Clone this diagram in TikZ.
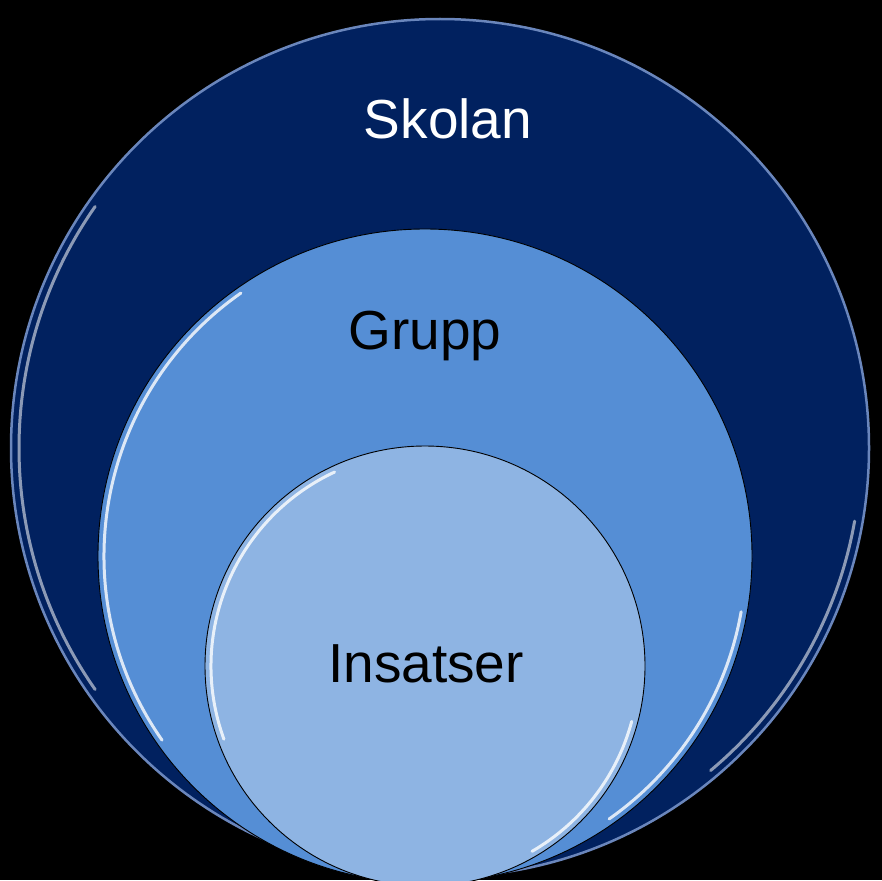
\documentclass[tikz,border=0pt]{standalone}
\usepackage{fontspec}
\setmainfont{Liberation Sans}
\definecolor{skolanblue}{HTML}{01215F}
\definecolor{skolanrim}{HTML}{6A86BC}
\definecolor{gruppblue}{HTML}{558ED5}
\definecolor{insatsblue}{HTML}{8EB4E3}
\tikzset{
  ring/.style={circle, inner sep=0pt, draw=black, line width=0.9pt},
  shine/.style={white, line width=3pt, line cap=round, opacity=0.8},
  word/.style={font=\fontsize{55}{60}\selectfont, anchor=base}
}

\begin{document}
\begin{tikzpicture}[x=1pt,y=-1pt]
\fill[black] (0,0) rectangle (882,880);
\useasboundingbox (0,0) rectangle (882,880);
\begin{scope}
  \clip (0,0) rectangle (882,880);
  % three rings, all resting on the bottom edge
  \node[ring, fill=skolanblue, draw=skolanrim, line width=2.5pt, minimum size=858pt] (skolan) at (440,448) {};
  \node[ring, fill=gruppblue, minimum size=654pt] (grupp) at (425,556) {};
  \node[ring, fill=insatsblue, minimum size=440pt] (insats) at (425,666) {};
  % glossy edges
  \draw[shine, opacity=0.55] ([shift={(145:421pt)}]skolan.center) arc[start angle=145, end angle=215, radius=421pt];
  \draw[shine, opacity=0.55] ([shift={(-10:421pt)}]skolan.center) arc[start angle=-10, end angle=-50, radius=421pt];
  %\draw[shine] ([shift={(100:421pt)}]skolan.center) arc[start angle=100, end angle=60, radius=421pt];
  \draw[shine] ([shift={(125:321pt)}]grupp.center) arc[start angle=125, end angle=215, radius=321pt];
  \draw[shine] ([shift={(-10:321pt)}]grupp.center) arc[start angle=-10, end angle=-55, radius=321pt];
  \draw[shine] ([shift={(115:214pt)}]insats.center) arc[start angle=115, end angle=200, radius=214pt];
  \draw[shine] ([shift={(-15:214pt)}]insats.center) arc[start angle=-15, end angle=-60, radius=214pt];
\end{scope}
\node[word, text=white] (skolantext) at (448,138) {Skolan};
\node[word] (grupptext) at (425,349) {Grupp};
\node[word] (insatstext) at (426,682) {Insatser};
\end{tikzpicture}
\end{document}
